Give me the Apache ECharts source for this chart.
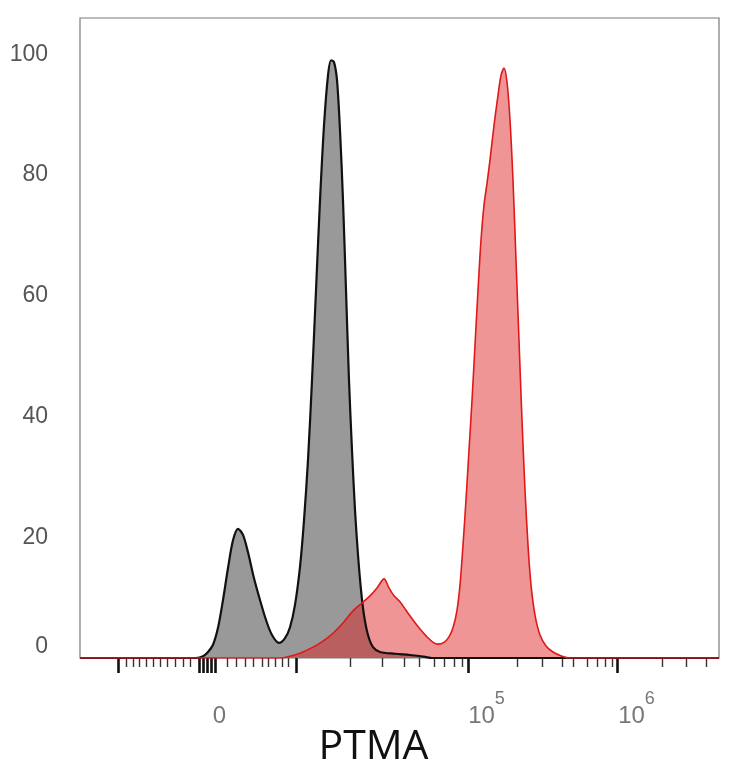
<!DOCTYPE html>
<html>
<head>
<meta charset="utf-8">
<script src="https://cdn.jsdelivr.net/npm/echarts@6/dist/echarts.min.js"></script>
<style>
  html, body { margin: 0; padding: 0; background: #fff; }
  #chart { width: 734px; height: 768px; }
</style>
</head>
<body>
<div id="chart"></div>
<script>
// x is the display channel of the biexponential PTMA scale (0 = left edge of the plot)
var controlX = [0, 116, 123, 128, 133, 138, 143, 148, 153, 158, 163, 168, 174, 180, 186, 192, 199, 205, 210, 215,
  220, 224, 228, 232, 236, 240, 244, 248, 251, 254, 257, 260, 263, 266, 269, 272, 275, 278, 281, 284,
  288, 293, 300, 315, 330, 345, 352, 639]
var controlY = [0, 0, 0.3, 1.0, 2.2, 5.0, 9.6, 14.9, 19.5, 21.4, 20.4, 17.5, 13.2, 9.6, 6.3, 3.8, 2.5, 3.3, 5.1, 8.8,
  15.1, 22.8, 32.8, 46.0, 60.9, 75.8, 88.2, 96.5, 99.0, 98.7, 95.7, 87.4, 75.8, 60.9, 46.0, 34.4, 24.5, 17.1, 11.3, 7.1,
  3.8, 1.8, 1.0, 0.7, 0.5, 0.2, 0, 0]

var ptmaX = [0, 200, 210, 220, 233, 243, 253, 263, 273, 282, 290, 297, 304, 309, 314, 320, 326, 333, 340, 347,
  353, 358, 364, 369, 373, 377, 380, 383, 386, 389, 392, 395, 398, 401, 404, 407, 410, 414, 418, 421,
  424, 427, 430, 433, 436, 439, 442, 445, 448, 451, 455, 460, 466, 473, 482, 490, 639]
var ptmaY = [0, 0, 0.3, 0.8, 1.8, 2.8, 4.1, 5.8, 7.8, 9.1, 10.3, 11.6, 13.1, 11.6, 10.3, 9.3, 7.9, 6.3, 4.8, 3.5,
  2.6, 2.3, 2.6, 3.5, 5.0, 7.9, 12.1, 18.7, 26.2, 34.4, 42.7, 51.8, 60.9, 69.2, 75.0, 78.6, 82.5, 88.2, 93.2, 96.5,
  97.7, 95.4, 89.1, 79.1, 65.9, 52.6, 39.4, 27.8, 18.7, 12.1, 7.1, 3.8, 2.0, 1.0, 0.3, 0, 0]

// axis decorations
var majorTicks = [38, 119, 123, 127, 131, 135, 216, 388, 537]
var minorTicks = [46, 53, 59, 66, 73, 80, 87, 95, 103, 110,
  147, 156, 165, 173, 182, 188, 195, 202, 208,
  270, 302, 324, 339, 354, 364, 374, 382,
  437, 462, 482, 493, 507, 517, 525, 532,
  582, 606, 626]
var xLabelPos = [139.5, 406.5, 556.5]
var xLabelText = ['{b|0}', '{b|10}{s|5}', '{b|10}{s|6}']
var yLabels = [0, 20, 40, 60, 80, 100]

function pairs(xs, ys) {
  return xs.map(function (x, i) { return [x, ys[i]] })
}

var chart = echarts.init(document.getElementById('chart'))

var baseX = {
  type: 'value',
  position: 'bottom',
  min: 0,
  max: 639,
  splitLine: { show: false },
  axisLine: { show: false }
}

chart.setOption({
  animation: false,
  grid: {
    left: 80, right: 15, top: 18, bottom: 110,
    outerBoundsMode: 'none',
    containLabel: false,
    show: true, borderColor: '#7a7a7a', borderWidth: 1.2
  },
  xAxis: [
    Object.assign({}, baseX, {
      name: 'PTMA',
      nameLocation: 'middle',
      nameGap: 69,
      nameMoveOverlap: false,
      nameTextStyle: { fontFamily: 'Open Sans', fontSize: 41, color: '#111', padding: [0, 52, 0, 0] },
      axisTick: { show: true, customValues: majorTicks, length: 15, lineStyle: { color: '#111', width: 2.6 } },
      axisLabel: {
        show: true,
        customValues: xLabelPos,
        margin: 32,
        lineHeight: 38,
        formatter: function (v) {
          var i = xLabelPos.indexOf(v)
          return i >= 0 ? xLabelText[i] : ''
        },
        rich: {
          b: { fontFamily: 'Liberation Sans', fontSize: 24, color: '#777', verticalAlign: 'bottom' },
          s: { fontFamily: 'Liberation Sans', fontSize: 18, color: '#777', verticalAlign: 'top' }
        }
      }
    }),
    Object.assign({}, baseX, {
      axisTick: { show: true, customValues: minorTicks, length: 9, lineStyle: { color: '#333', width: 1.4 } },
      axisLabel: { show: false }
    })
  ],
  yAxis: {
    type: 'value',
    min: 0,
    max: 106,
    splitLine: { show: false },
    axisLine: { show: false },
    axisTick: { show: false },
    axisLabel: {
      customValues: yLabels,
      margin: 32,
      fontFamily: 'Liberation Sans',
      fontSize: 23,
      color: '#555',
      formatter: function (v) {
        return v === 0 ? '{z|0}' : String(v)
      },
      rich: {
        z: { fontFamily: 'Liberation Sans', fontSize: 23, color: '#555', padding: [0, 0, 22, 0] }
      }
    }
  },
  series: [
    {
      name: 'Control',
      type: 'line',
      data: pairs(controlX, controlY),
      smooth: 0.3,
      showSymbol: false,
      lineStyle: { color: '#111', width: 2.2 },
      areaStyle: { color: '#999999', opacity: 1 }
    },
    {
      name: 'PTMA',
      type: 'line',
      data: pairs(ptmaX, ptmaY),
      smooth: 0.3,
      showSymbol: false,
      lineStyle: { color: '#e01818', width: 1.6 },
      areaStyle: { color: 'rgb(220,30,30)', opacity: 0.47 }
    }
  ]
})
</script>
</body>
</html>
